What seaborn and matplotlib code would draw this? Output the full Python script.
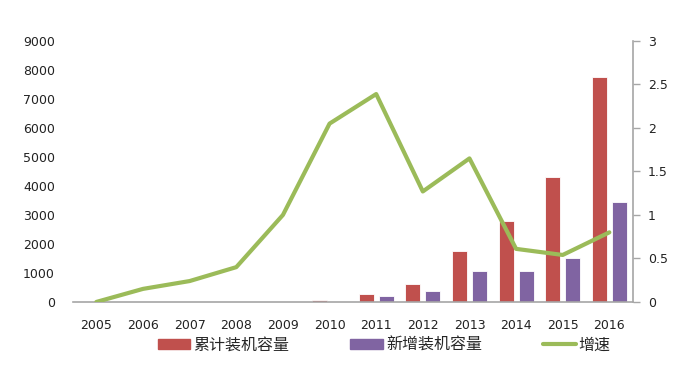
import pandas as pd
import matplotlib.pyplot as plt
import seaborn as sns
from matplotlib.ticker import FuncFormatter
from matplotlib.patches import Patch
from matplotlib.lines import Line2D

sns.set_style("white")
plt.rcParams['font.family'] = ['DejaVu Sans', 'Noto Sans CJK SC']

# 数据
years = ["2005", "2006", "2007", "2008", "2009", "2010",
         "2011", "2012", "2013", "2014", "2015", "2016"]
cumulative = [0, 0, 0, 0, 0, 70, 280, 620, 1745, 2805, 4318, 7742]
new_added = [0, 0, 0, 0, 0, 0, 200, 370, 1070, 1060, 1513, 3454]
growth = [0, 0.15, 0.24, 0.40, 1.0, 2.05, 2.39, 1.27, 1.65, 0.61, 0.54, 0.80]

lbl_cum = "累计装机容量"
lbl_new = "新增装机容量"
lbl_growth = "增速"

df = pd.DataFrame({
    "year": years * 2,
    "value": cumulative + new_added,
    "series": [lbl_cum] * len(years) + [lbl_new] * len(years),
})

red = "#C0504D"
purple = "#8064A2"
green = "#9BBB59"
axis_gray = "#A6A6A6"

fig = plt.figure(figsize=(6.96, 3.76), dpi=100)
ax = fig.add_axes([0.105, 0.197, 0.804, 0.694])

sns.barplot(data=df, x="year", y="value", hue="series",
            palette=[red, purple], saturation=1, width=0.86, gap=0.25,
            edgecolor="white", linewidth=0.6, ax=ax, legend=False)
ax.set_ylim(0, 9000)
ax.set_yticks(range(0, 9001, 1000))
ax.set_xlim(-0.5, len(years) - 0.5)
ax.set_xlabel("")
ax.set_ylabel("")
for s in ["top", "right", "left"]:
    ax.spines[s].set_visible(False)
ax.spines["bottom"].set_color(axis_gray)
ax.spines["bottom"].set_linewidth(1.2)
ax.tick_params(axis="y", length=0, pad=13, labelsize=9, labelcolor="#222222")
ax.tick_params(axis="x", length=0, pad=12, labelsize=9, labelcolor="#222222")

ax2 = ax.twinx()
sns.lineplot(x=list(range(len(years))), y=growth, color=green, linewidth=3,
             ax=ax2, legend=False)
ax2.set_ylim(0, 3)
ax2.set_yticks([0, 0.5, 1, 1.5, 2, 2.5, 3])
ax2.yaxis.set_major_formatter(FuncFormatter(lambda v, p: f"{v:g}"))
ax2.set_xlim(-0.5, len(years) - 0.5)
for s in ["top", "left", "bottom"]:
    ax2.spines[s].set_visible(False)
ax2.spines["right"].set_color(axis_gray)
ax2.spines["right"].set_linewidth(1.2)
ax2.tick_params(axis="y", length=5, width=1, color=axis_gray, pad=6,
                labelsize=9, labelcolor="#222222")

# 图例
handles = [Patch(color=red, label=lbl_cum),
           Patch(color=purple, label=lbl_new),
           Line2D([0], [0], color=green, lw=3, label=lbl_growth)]
fig.legend(handles=handles, loc="center", bbox_to_anchor=(0.552, 0.082),
           ncol=3, frameon=False, columnspacing=3.8,
           handlelength=2.05, handleheight=0.65, handletextpad=0.2,
           prop={"family": ["Noto Sans CJK SC", "DejaVu Sans"], "size": 11.5})

fig.savefig("out.png", dpi=100)
